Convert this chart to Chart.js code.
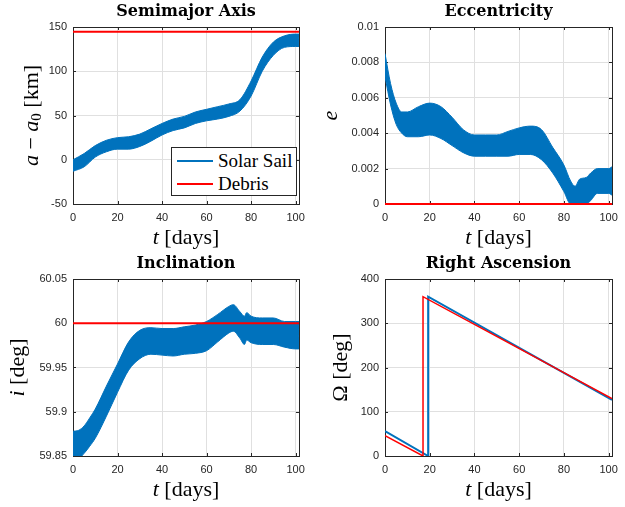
<!DOCTYPE html>
<html>
<head>
<meta charset="utf-8">
<script src="https://cdn.jsdelivr.net/npm/chart.js@4.4.1/dist/chart.umd.min.js"></script>
<style>
  body { margin: 0; background: #fff; }
  #fig { position: relative; width: 625px; height: 507px; overflow: hidden; }
  canvas { position: absolute; }
  #legend {
    position: absolute; left: 171px; top: 147px; width: 124px; height: 47px;
    border: 1px solid #262626; background: #fff;
    font-family: 'Liberation Serif', serif; font-size: 19px; color: #000;
  }
  #legend .row { position: absolute; left: 5px; height: 23px; display: flex; align-items: center; }
  #legend .swatch { width: 36px; margin-right: 5px; }
</style>
</head>
<body>
<div id="fig">
  <canvas id="semi" width="312" height="253" style="left:0;top:0"></canvas>
  <canvas id="ecc" width="313" height="253" style="left:312px;top:0"></canvas>
  <canvas id="inc" width="312" height="255" style="left:0;top:252px"></canvas>
  <canvas id="raan" width="313" height="255" style="left:312px;top:252px"></canvas>
  <div id="legend"></div>
</div>
<script>
// time axis shared by all panels [days]
const tEnds = [0, 101.5];

// semimajor axis a - a0 [km], envelope of the solar sail band
const tSemi = [0, 5, 10, 15, 20, 25, 30, 35, 40, 45, 50, 55, 60, 65, 70, 75, 80, 85, 90, 95, 100, 101.5];
const semiUpper = [0, 7, 16, 22, 25, 26, 29, 35, 41, 46, 49, 54, 57, 60, 63, 68, 89, 116, 133, 140, 142, 142];
const semiLower = [-13, -8, 3, 9, 12, 12, 15, 21, 28, 33, 36, 41, 44, 46, 49, 55, 72, 100, 118, 127, 128, 128];
const semiDebris = [144.7, 144.7];

// eccentricity
const tEcc = [0, 2.5, 5, 7.5, 10, 15, 20, 25, 30, 35, 40, 45, 50, 55, 60, 65, 70, 75, 80, 83, 85, 87, 90, 92, 95, 100, 101.5];
const eccUpper = [0.0085, 0.0068, 0.0057, 0.0052, 0.0052, 0.0055, 0.0057, 0.0055, 0.0049, 0.0042, 0.0039, 0.0039, 0.0039, 0.0041, 0.0043, 0.0044, 0.0042, 0.0032, 0.0022, 0.0013, 0.001, 0.0014, 0.0015, 0.00175, 0.002, 0.002, 0.0021];
const eccLower = [0.0072, 0.0056, 0.0045, 0.004, 0.0038, 0.0038, 0.0039, 0.0037, 0.0033, 0.0029, 0.0027, 0.0027, 0.0027, 0.0027, 0.0028, 0.0028, 0.0025, 0.00175, 0.0007, 0, 0, 0, 0, 0.0002, 0.0006, 0.0006, 0.0005];
const eccDebris = [0, 0];

// inclination [deg]
const tInc = [0, 2.5, 5, 7.5, 10, 15, 20, 25, 30, 35, 40, 45, 50, 55, 60, 65, 70, 72, 75, 77, 78, 80, 85, 90, 95, 100, 101.5];
const incUpper = [59.878, 59.879, 59.884, 59.893, 59.903, 59.929, 59.954, 59.979, 59.992, 59.995, 59.994, 59.994, 59.996, 59.998, 60.002, 60.010, 60.019, 60.021, 60.013, 60.008, 60.012, 60.008, 60.006, 60.006, 60.002, 60.002, 60.002];
const incLower = [59.846, 59.847, 59.853, 59.861, 59.870, 59.895, 59.922, 59.947, 59.960, 59.965, 59.964, 59.963, 59.965, 59.966, 59.969, 59.979, 59.989, 59.991, 59.983, 59.976, 59.981, 59.978, 59.976, 59.976, 59.973, 59.971, 59.971];
const incDebris = [60, 60];

// right ascension [deg]
const tRaanSail = [0, 19.3, 19.3, 101.5];
const raanSail = [56, 0, 360, 127];
const tRaanDebris = [0, 17, 17, 101.5];
const raanDebris = [46, 0, 360, 130];

const seriesNames = ['Solar Sail', 'Debris'];
const sailColor = '#0072BD';
const debrisColor = '#FF0000';

const xy = (xs, ys) => xs.map((x, i) => ({ x: x, y: ys[i] }));

// draws the box round the axes and MATLAB style inward ticks
const boxPlugin = {
    id: 'box',
    beforeDatasetsDraw(chart) {
        const { ctx, chartArea: a, scales } = chart;
        ctx.save();
        ctx.strokeStyle = '#262626';
        ctx.lineWidth = 1;
        ctx.beginPath();
        scales.x.ticks.forEach(t => {
            const px = Math.round(scales.x.getPixelForValue(t.value)) + 0.5;
            ctx.moveTo(px, a.bottom); ctx.lineTo(px, a.bottom - 3);
            ctx.moveTo(px, a.top); ctx.lineTo(px, a.top + 3);
        });
        scales.y.ticks.forEach(t => {
            const py = Math.round(scales.y.getPixelForValue(t.value)) + 0.5;
            ctx.moveTo(a.left, py); ctx.lineTo(a.left + 3, py);
            ctx.moveTo(a.right, py); ctx.lineTo(a.right - 3, py);
        });
        ctx.stroke();
        ctx.strokeRect(Math.round(a.left) + 0.5, Math.round(a.top) + 0.5,
            Math.round(a.right - a.left), Math.round(a.bottom - a.top));
        ctx.restore();
    }
};

// axis labels with italic math symbols
function fontFor(p) {
    const size = p.sub ? 15 : 22;
    return (p.it ? 'italic ' : '') + size + 'px "Liberation Serif", serif';
}
function drawParts(ctx, parts, cx, cy, rot) {
    ctx.save();
    ctx.translate(cx, cy);
    ctx.rotate(rot);
    ctx.textBaseline = 'middle';
    ctx.fillStyle = '#000';
    let total = 0;
    parts.forEach(p => { ctx.font = fontFor(p); p.w = ctx.measureText(p.text).width; total += p.w; });
    let x = -total / 2;
    parts.forEach(p => {
        ctx.font = fontFor(p);
        ctx.fillText(p.text, x, p.sub ? 5 : 0);
        x += p.w;
    });
    ctx.restore();
}
const labelPlugin = {
    id: 'mathLabels',
    afterDraw(chart, args, opts) {
        const { ctx, chartArea: a } = chart;
        drawParts(ctx, opts.x, (a.left + a.right) / 2, a.bottom + 34, 0);
        drawParts(ctx, opts.y, a.left - opts.yOff, (a.top + a.bottom) / 2, -Math.PI / 2);
    }
};

const tLabel = [{ text: 't', it: true }, { text: ' [days]' }];
const fmt = v => parseFloat(v.toFixed(4)).toString();

function makePanel(id, title, yLabel, yOff, yMin, yMax, yStep, datasets) {
    const canvas = document.getElementById(id);
    return new Chart(canvas.getContext('2d'), {
        type: 'line',
        data: { datasets: datasets },
        options: {
            responsive: false,
            animation: false,
            devicePixelRatio: 1,
            layout: { padding: { left: 0, right: 8, top: 0, bottom: 0 } },
            elements: { point: { radius: 0 } },
            plugins: {
                legend: { display: false },
                tooltip: { enabled: false },
                title: {
                    display: true,
                    fullSize: false,
                    text: title,
                    color: '#000',
                    font: { family: '"DejaVu Serif", serif', size: 16, weight: 'bold', lineHeight: 1 },
                    padding: { top: 4, bottom: 7 }
                },
                mathLabels: { x: tLabel, y: yLabel, yOff: yOff }
            },
            scales: {
                x: {
                    type: 'linear',
                    min: 0, max: 101.5,
                    afterFit: s => { s.height = canvas.height - 204; },
                    border: { display: false },
                    grid: { color: '#e0e0e0', drawTicks: false },
                    ticks: {
                        stepSize: 20, includeBounds: false, padding: 7, color: '#262626',
                        maxRotation: 0,
                        font: { family: '"Liberation Sans", Arial, sans-serif', size: 11 }
                    }
                },
                y: {
                    min: yMin, max: yMax,
                    afterFit: s => { s.width = 73; },
                    border: { display: false },
                    grid: { color: '#e0e0e0', drawTicks: false },
                    ticks: {
                        stepSize: yStep, padding: 6, color: '#262626', callback: fmt,
                        font: { family: '"Liberation Sans", Arial, sans-serif', size: 11 }
                    }
                }
            }
        },
        plugins: [boxPlugin, labelPlugin]
    });
}

// solar sail band: upper envelope filled down to the lower one
function band(xs, upper, lower) {
    return [
        { label: seriesNames[0], data: xy(xs, upper), borderColor: sailColor, backgroundColor: sailColor,
          borderWidth: 1, fill: '+1', cubicInterpolationMode: 'monotone', order: 2 },
        { label: seriesNames[0], data: xy(xs, lower), borderColor: sailColor, backgroundColor: sailColor,
          borderWidth: 1, fill: false, cubicInterpolationMode: 'monotone', order: 2 }
    ];
}
function debris(ys) {
    return { label: seriesNames[1], data: xy(tEnds, ys), borderColor: debrisColor, borderWidth: 2,
             fill: false, order: 1, clip: false };
}

makePanel('semi', 'Semimajor Axis',
    [{ text: 'a', it: true }, { text: ' − ' }, { text: 'a', it: true }, { text: '0', sub: true }, { text: ' [km]' }],
    41, -50, 150, 50,
    band(tSemi, semiUpper, semiLower).concat([debris(semiDebris)]));

makePanel('ecc', 'Eccentricity', [{ text: 'e', it: true }], 54, 0, 0.01, 0.002,
    band(tEcc, eccUpper, eccLower).concat([debris(eccDebris)]));

makePanel('inc', 'Inclination', [{ text: 'i', it: true }, { text: ' [deg]' }], 55, 59.85, 60.05, 0.05,
    band(tInc, incUpper, incLower).concat([debris(incDebris)]));

makePanel('raan', 'Right Ascension', [{ text: 'Ω' }, { text: ' [deg]' }], 44, 0, 400, 100, [
    { label: seriesNames[0], data: xy(tRaanSail, raanSail), borderColor: sailColor, borderWidth: 2, fill: false, tension: 0, order: 2 },
    { label: seriesNames[1], data: xy(tRaanDebris, raanDebris), borderColor: debrisColor, borderWidth: 1.5, fill: false, tension: 0, order: 1 }
]);

// legend for the first panel
const legend = document.getElementById('legend');
[[seriesNames[0], sailColor, 2, 1], [seriesNames[1], debrisColor, 2, 24]].forEach(([name, color, w, top]) => {
    const row = document.createElement('div');
    row.className = 'row';
    row.style.top = top + 'px';
    row.innerHTML = '<div class="swatch" style="border-top:' + w + 'px solid ' + color + '"></div><span>' + name + '</span>';
    legend.appendChild(row);
});
</script>
</body>
</html>
